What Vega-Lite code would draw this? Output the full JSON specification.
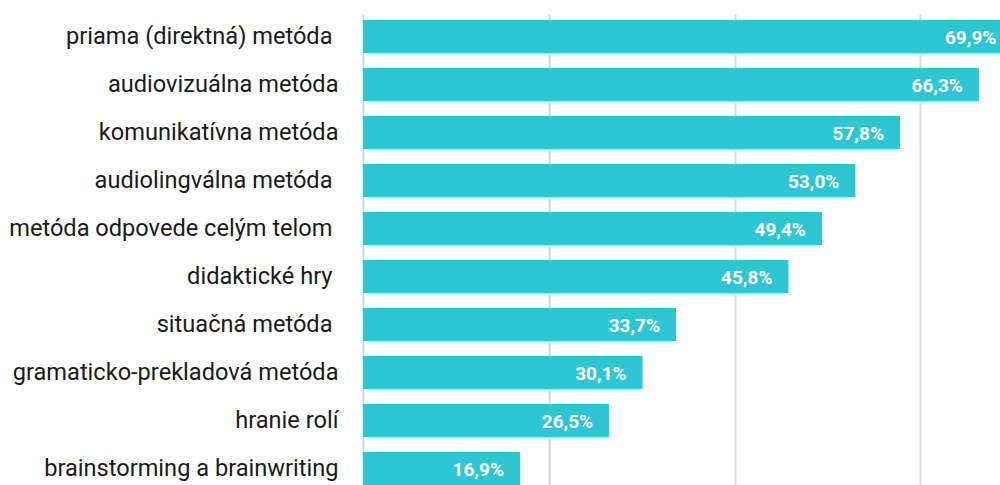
{
  "$schema": "https://vega.github.io/schema/vega-lite/v6.json",
  "width": 637,
  "height": 471,
  "autosize": {"type": "none"},
  "padding": {"left": 363, "top": 14, "right": 0, "bottom": 0},
  "background": "white",
  "config": {"view": {"stroke": null}, "font": "Roboto"},
  "data": {
    "values": [
      {"method": "priama (direktná) metóda ", "value": 69.9, "label": "69,9%"},
      {"method": "audiovizuálna metóda", "value": 66.3, "label": "66,3%"},
      {"method": "komunikatívna metóda", "value": 57.8, "label": "57,8%"},
      {"method": "audiolingválna metóda ", "value": 53.0, "label": "53,0%"},
      {"method": "metóda odpovede celým telom ", "value": 49.4, "label": "49,4%"},
      {"method": "didaktické hry ", "value": 45.8, "label": "45,8%"},
      {"method": "situačná metóda ", "value": 33.7, "label": "33,7%"},
      {"method": "gramaticko-prekladová metóda", "value": 30.1, "label": "30,1%"},
      {"method": "hranie rolí", "value": 26.5, "label": "26,5%"},
      {"method": "brainstorming a brainwriting", "value": 16.9, "label": "16,9%"}
    ]
  },
  "encoding": {
    "y": {
      "field": "method", "type": "nominal", "sort": null,
      "scale": {"paddingInner": 0.3125, "paddingOuter": 0.0625, "align": 1},
      "axis": {
        "title": null, "domain": false, "ticks": false, "labelFontSize": 23.6, "labelColor": "#1a1a1a", "labelFont": "Roboto", "labelLimit": 400,
        "labelPadding": {"condition": {"test": "lastindexof(datum.value, ' ') == length(datum.value) - 1", "value": 31}, "value": 25}
      }
    },
    "x": {
      "field": "value", "type": "quantitative",
      "scale": {"domain": [0, 68.57], "nice": false},
      "axis": {"title": null, "labels": false, "ticks": false, "domain": false, "values": [0, 20, 40, 60], "grid": true, "gridColor": "#d9d9d9", "gridWidth": 2}
    }
  },
  "layer": [
    {"mark": {"type": "bar", "color": "#2ec6d2", "clip": true}},
    {"mark": {"type": "text", "align": "right", "baseline": "middle", "dx": -16, "dy": 1, "color": "white", "fontWeight": "bold", "fontSize": 19, "font": "Roboto"},
     "encoding": {"text": {"field": "label"}}}
  ]
}
